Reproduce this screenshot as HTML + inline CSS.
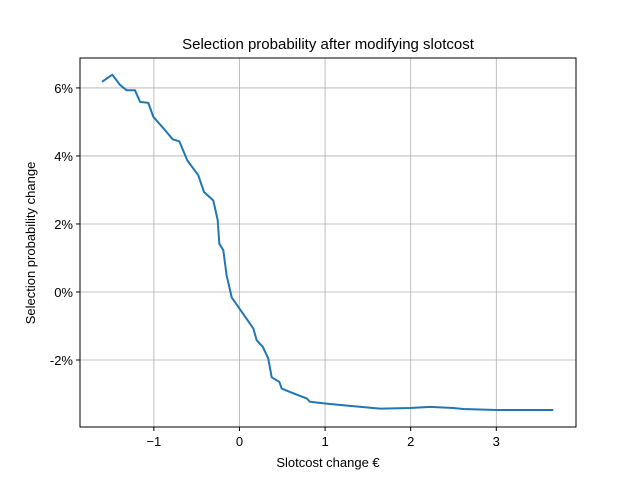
<!DOCTYPE html>
<html><head><meta charset="utf-8"><style>
body{margin:0;background:#fff;}
svg{display:block;font-family:"Liberation Sans","DejaVu Sans",sans-serif;}
</style></head><body>
<svg id="chart" width="640" height="480">
<rect width="640" height="480" fill="#fff"/>
<text x="328" y="49" font-size="15" text-anchor="middle">Selection probability after modifying slotcost</text>
<g id="grid"></g>
<g id="ticks"></g>
<path id="line" fill="none" stroke="#1f77b4" stroke-width="2" stroke-linejoin="round"/>
<rect x="80" y="58" width="496" height="369" fill="none" stroke="#000" stroke-width="1"/>
<text x="328" y="467" font-size="13" text-anchor="middle">Slotcost change €</text>
<text transform="translate(35,243) rotate(-90)" font-size="13" text-anchor="middle">Selection probability change</text>
</svg>
<script>
const xValues=[-1.606,-1.486,-1.396,-1.318,-1.221,-1.161,-1.065,-1.007,-0.870,-0.780,-0.703,-0.610,-0.481,-0.415,-0.306,-0.255,-0.236,-0.189,-0.150,-0.091,0.161,0.201,0.271,0.336,0.376,0.465,0.493,0.629,0.785,0.824,0.999,1.291,1.641,1.992,2.225,2.498,2.614,3.005,3.666];
const yValues=[6.18,6.39,6.09,5.93,5.93,5.59,5.56,5.15,4.76,4.49,4.43,3.87,3.43,2.94,2.69,2.11,1.42,1.23,0.49,-0.16,-1.07,-1.42,-1.61,-1.95,-2.51,-2.64,-2.84,-2.98,-3.13,-3.23,-3.28,-3.35,-3.43,-3.41,-3.38,-3.41,-3.44,-3.47,-3.47];
const xTicks=[-1,0,1,2,3];
const xTickLabels=["−1","0","1","2","3"];
const yTicks=[-2,0,2,4,6];
const yTickLabels=["-2%","0%","2%","4%","6%"];
const X0=80,X1=576,Y0=58,Y1=427,xmin=-1.863,xmax=3.931,ymin=-3.97,ymax=6.88;
const sx=v=>X0+(v-xmin)/(xmax-xmin)*(X1-X0);
const sy=v=>Y1-(v-ymin)/(ymax-ymin)*(Y1-Y0);
const NS="http://www.w3.org/2000/svg";
const grid=document.getElementById('grid'),ticks=document.getElementById('ticks');
function mk(tag,attrs,parent){const e=document.createElementNS(NS,tag);for(const k in attrs)e.setAttribute(k,attrs[k]);parent.appendChild(e);return e;}
xTicks.forEach((t,i)=>{const x=sx(t);
 const g=mk('line',{x1:x,x2:x,y1:Y0,y2:Y1,stroke:'#b0b0b0','stroke-width':0.8},grid);
 
 
 const tk=mk('line',{x1:x,x2:x,y1:Y1,y2:Y1+4,stroke:'#000'},ticks);
 
 
 const tx=mk('text',{x:x,y:Y1+19,'font-size':13,'text-anchor':'middle'},ticks);tx.textContent=xTickLabels[i];
 
 
});
yTicks.forEach((t,i)=>{const y=sy(t);
 const g=mk('line',{x1:X0,x2:X1,y1:y,y2:y,stroke:'#b0b0b0','stroke-width':0.8},grid);
 
 
 const tk=mk('line',{x1:X0-4,x2:X0,y1:y,y2:y,stroke:'#000'},ticks);
 
 
 const tx=mk('text',{x:X0-7,y:y+5,'font-size':13,'text-anchor':'end'},ticks);tx.textContent=yTickLabels[i];
 
 
});
document.getElementById('line').setAttribute('d',xValues.map((v,i)=>(i?'L':'M')+sx(v).toFixed(1)+','+sy(yValues[i]).toFixed(1)).join(''));
</script>
</body></html>
